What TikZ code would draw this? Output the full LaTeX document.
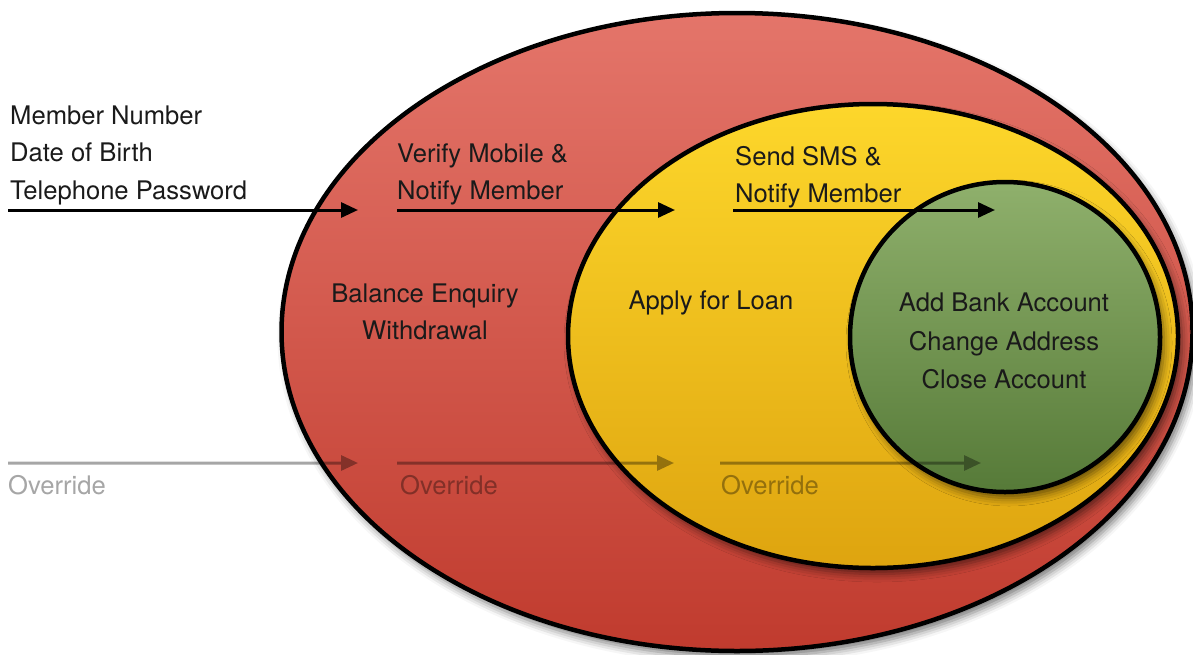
\documentclass[tikz,border=0pt]{standalone}
\usepackage{fontspec}
\setmainfont{TeX Gyre Heros}
\usetikzlibrary{shapes.geometric,arrows.meta,shadows.blur}
\definecolor{redTop}{HTML}{E4756A}
\definecolor{redBot}{HTML}{C03B2E}
\definecolor{yelTop}{HTML}{FDD72B}
\definecolor{yelBot}{HTML}{DEA40F}
\definecolor{grnTop}{HTML}{8FB06C}
\definecolor{grnBot}{HTML}{567A38}
\definecolor{txt}{HTML}{1A1A1A}
\begin{document}
\begin{tikzpicture}[x=1pt,y=-1pt,
  zone/.style={ellipse, draw=black, line width=4.5pt, inner sep=0pt,
    blur shadow={shadow xshift=4pt, shadow yshift=-6pt, shadow opacity=55, shadow blur radius=8pt}},
  lbl/.style={font=\fontsize{25.6}{37.5}\selectfont, text=txt, inner sep=0pt},
  ovrtxt/.style={font=\fontsize{25.6}{37.5}\selectfont, text=black, text opacity=0.35, inner sep=0pt},
  flow/.style={line width=3pt, draw=black, -{Triangle[length=17pt,width=15pt]}},
  ovr/.style={line width=3pt, draw=black, -{Triangle[length=17pt,width=15pt]}},
  faint/.style={transparency group, opacity=0.35}
]
\useasboundingbox (0,0) rectangle (1193,654);

% zones
\node[zone, minimum width=911pt, minimum height=638pt, top color=redTop, bottom color=redBot] (red) at (737,332) {};
\node[zone, minimum width=610pt, minimum height=464pt, top color=yelTop, bottom color=yelBot] (yellow) at (873,336) {};
\node[zone, circle, minimum size=310pt, top color=grnTop, bottom color=grnBot] (green) at (1005,337) {};

% texts
\node[lbl, anchor=west, align=left] (creds) at (10,155) {Member Number\\Date of Birth\\Telephone Password};
\node[lbl, anchor=west, align=left] (verify) at (397,174.5) {Verify Mobile \&\\Notify Member};
\node[lbl, anchor=west, align=left] (sms) at (735,177) {Send SMS \&\\Notify Member};
\node[lbl, align=center] (balance) at (425,312) {Balance Enquiry\\Withdrawal};
\node[lbl] (loan) at (711,303) {Apply for Loan};
\node[lbl, align=center, font=\fontsize{25.6}{38.5}\selectfont] (acct) at (1004,341) {Add Bank Account\\Change Address\\Close Account};
\node[ovrtxt, anchor=west] (ov1t) at (8,485) {Override};
\node[ovrtxt, anchor=west] (ov2t) at (400,485) {Override};
\node[ovrtxt, anchor=west] (ov3t) at (721,485) {Override};

% arrow end points
\coordinate (in1s) at (8,210);   \coordinate (in1e) at (358,210);
\coordinate (in2s) at (397,210); \coordinate (in2e) at (675,210);
\coordinate (in3s) at (733,210); \coordinate (in3e) at (995,210);
\coordinate (ov1s) at (8,463);   \coordinate (ov1e) at (358,463);
\coordinate (ov2s) at (397,463); \coordinate (ov2e) at (674,463);
\coordinate (ov3s) at (720,463); \coordinate (ov3e) at (981,463);

\draw[flow] (in1s) -- (in1e);
\draw[flow] (in2s) -- (in2e);
\draw[flow] (in3s) -- (in3e);
\begin{scope}[faint]
  \draw[ovr] (ov1s) -- (ov1e);
  \draw[ovr] (ov2s) -- (ov2e);
  \draw[ovr] (ov3s) -- (ov3e);
\end{scope}
\end{tikzpicture}
\end{document}
